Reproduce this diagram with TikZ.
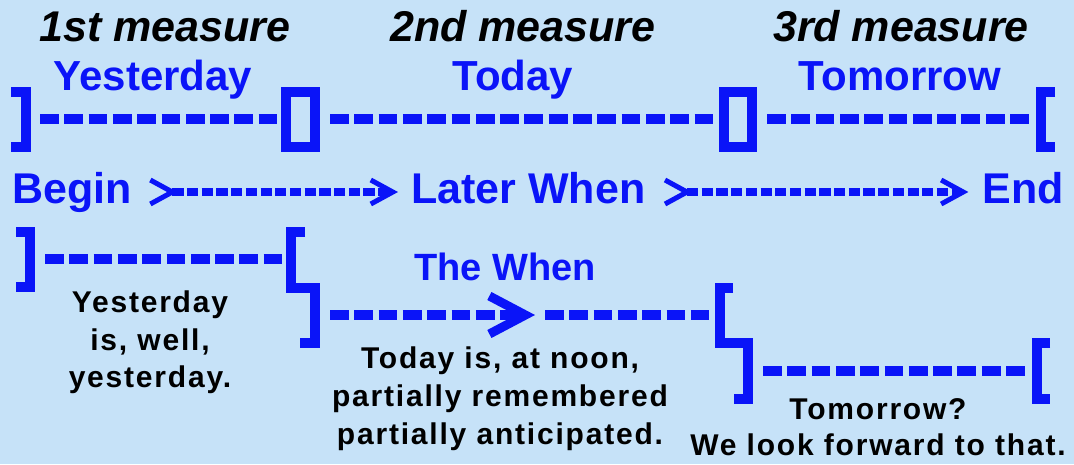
\documentclass[tikz,border=0pt]{standalone}
\usepackage{fontspec}
\setmainfont{Liberation Sans}
\newfontfamily\pixfont[LetterSpace=6]{Liberation Sans}
\usetikzlibrary{arrows.meta}
\definecolor{bgblue}{RGB}{198,226,248}
\definecolor{ink}{RGB}{10,20,248}
\begin{document}
\begin{tikzpicture}[x=1pt,y=-1pt,
  hdr/.style={font=\fontsize{43}{50}\selectfont\bfseries\itshape, text=black, inner sep=0pt, anchor=base},
  dayname/.style={font=\fontsize{42}{50}\selectfont\bfseries, text=ink, inner sep=0pt, anchor=base},
  flow/.style={font=\fontsize{43}{50}\selectfont\bfseries, text=ink, inner sep=0pt, text height=31pt, text depth=9pt},
  note/.style={font=\pixfont\fontsize{30}{36}\selectfont\bfseries, text=black, inner sep=0pt, anchor=base},
  brk/.style={draw=ink, line width=10pt, line join=miter, line cap=butt},
  bigdash/.style={draw=ink, line width=10pt, dash pattern=on 18.8pt off 5.5pt},
  smalldash/.style={draw=ink, line width=8pt, dash pattern=on 11.2pt off 3.5pt},
  chev/.tip={Straight Barb[length=22pt,width=24pt,line width=5pt]},
  bigchev/.tip={Straight Barb[length=36pt,width=38pt,line width=9pt]},
  flowtips/.style={arrows={chev[reversed]-chev}}
]
\fill[bgblue] (0,0) rectangle (1074,464);
\useasboundingbox (0,0) rectangle (1074,464);

% headers
\node[hdr] (m1) at (165,41) {1st measure};
\node[hdr] (m2) at (523,41) {2nd measure};
\node[hdr] (m3) at (901,41) {3rd measure};
\node[dayname] (yd) at (153,90) {Yesterday};
\node[dayname] (td) at (513,90) {Today};
\node[dayname] (tm) at (900,90) {Tomorrow};

% row 1
\draw[brk] (11,92) -- (25.5,92) -- (25.5,147) -- (11,147);
\coordinate (r1a) at (30,119);
\draw[brk] (286,92) rectangle (315,147);
\coordinate (r1b) at (281,119);
\coordinate (r1c) at (320,119);
\draw[brk] (724,92) rectangle (752,147);
\coordinate (r1d) at (719,119);
\coordinate (r1e) at (757,119);
\draw[brk] (1055,92) -- (1041,92) -- (1041,147) -- (1055,147);
\coordinate (r1f) at (1036,119);
\draw[bigdash] ([xshift=10pt]r1a) -- ([xshift=-4pt]r1b);
\draw[bigdash] ([xshift=10pt]r1c) -- ([xshift=-6pt]r1d);
\draw[bigdash] ([xshift=10pt]r1e) -- ([xshift=-5pt]r1f);

% row 2
\node[flow, anchor=base west] (beg) at (12,203) {Begin};
\node[flow, anchor=base west] (lat) at (411,203) {Later When};
\node[flow, anchor=base east] (fin) at (1064,203) {End};
\draw[smalldash, flowtips] ([xshift=16pt]beg.east) -- ([xshift=-13pt]lat.west);
\draw[smalldash, flowtips] ([xshift=17pt]lat.east) -- ([xshift=-14pt]fin.west);

% row 3
\draw[brk] (16,232) -- (30,232) -- (30,287) -- (16,287);
\coordinate (r3a) at (35,258.5);
\draw[brk] (305,232) -- (291,232) -- (291,287.5) -- (315,287.5) -- (315,343) -- (300,343);
\coordinate (r3b) at (286,258.5);
\coordinate (r3c) at (320,315);
\draw[brk] (733,288) -- (720,288) -- (720,343) -- (748,343) -- (748,399) -- (734,399);
\coordinate (r3d) at (715,315);
\coordinate (r3e) at (753,371);
\draw[brk] (1050,343) -- (1037,343) -- (1037,399) -- (1050,399);
\coordinate (r3f) at (1032,371);
\coordinate (whn) at (535,315);
\draw[bigdash] ([xshift=10pt]r3a) -- ([xshift=-4pt]r3b);
\draw[bigdash, -bigchev] ([xshift=10pt]r3c) -- (whn);
\draw[bigdash] ([xshift=10pt]whn) -- ([xshift=-6pt]r3d);
\draw[bigdash] ([xshift=10pt]r3e) -- ([xshift=-5pt]r3f);
\node[dayname, font=\fontsize{38}{45}\selectfont\bfseries] (thewhen) at (505,280) {The When};

% notes
\node[note] (y1) at (150,312) {Yesterday};
\node[note] (y2) at (150,350) {is, well,};
\node[note] (y3) at (150,387) {yesterday.};
\node[note] (t1) at (500,368) {Today is, at noon,};
\node[note] (t2) at (500,406) {partially remembered};
\node[note] (t3) at (500,444) {partially anticipated.};
\node[note] (w1) at (878,419) {Tomorrow?};
\node[note] (w2) at (878,455) {We look forward to that.};
\end{tikzpicture}
\end{document}
